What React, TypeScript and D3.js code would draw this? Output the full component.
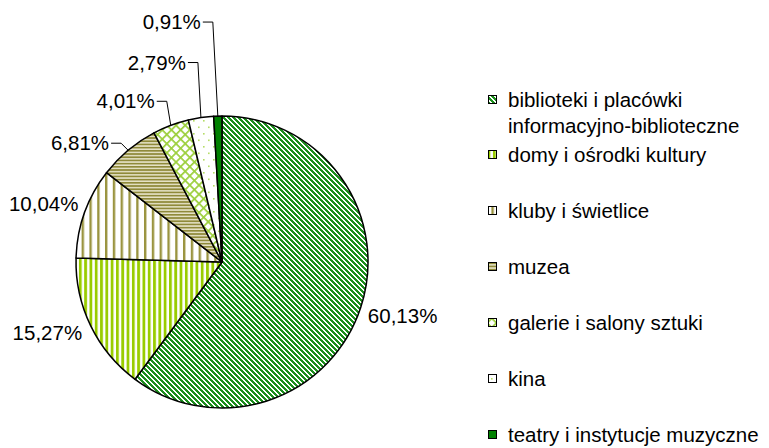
import { useEffect, useRef } from "react";
import * as d3 from "d3";

// udział poszczególnych instytucji (%)
const categories = [
  "biblioteki i placówki informacyjno-biblioteczne",
  "domy i ośrodki kultury",
  "kluby i świetlice",
  "muzea",
  "galerie i salony sztuki",
  "kina",
  "teatry i instytucje muzyczne",
];
const shares = [60.13, 15.27, 10.04, 6.81, 4.01, 2.79, 0.91];
const shareLabels = ["60,13%", "15,27%", "10,04%", "6,81%", "4,01%", "2,79%", "0,91%"];
const legendLines = [
  ["biblioteki i placówki", "informacyjno-biblioteczne"],
  ["domy i ośrodki kultury"],
  ["kluby i świetlice"],
  ["muzea"],
  ["galerie i salony sztuki"],
  ["kina"],
  ["teatry i instytucje muzyczne"],
];

const FONT = "'Liberation Sans', Arial, sans-serif";

export default function App() {
  const svgRef = useRef<SVGSVGElement>(null);

  useEffect(() => {
    if (!svgRef.current) return;
    const width = 769;
    const height = 448;
    const cx = 222;
    const cy = 262;
    const R = 146;

    const svg = d3.select(svgRef.current);
    svg.selectAll("*").remove();
    svg.attr("width", width).attr("height", height);

    const defs = svg.append("defs");

    // biblioteki - ukośne paski (bitmapa 5x5, kierunek "\")
    const p0 = defs.append("pattern").attr("id", "pat0").attr("patternUnits", "userSpaceOnUse")
      .attr("width", 5).attr("height", 5);
    p0.append("rect").attr("width", 5).attr("height", 5).attr("fill", "#fff");
    d3.range(5).forEach((r) => {
      [0, 1, 2].forEach((w) => {
        p0.append("rect")
          .attr("x", (r + w) % 5)
          .attr("y", r)
          .attr("width", 1)
          .attr("height", 1)
          .attr("fill", "#1c8f1c")
          .attr("shape-rendering", "crispEdges");
      });
    });

    // domy - pionowe paski limonkowe
    const p1 = defs.append("pattern").attr("id", "pat1").attr("patternUnits", "userSpaceOnUse")
      .attr("width", 5.3).attr("height", 10);
    p1.append("rect").attr("width", 5.3).attr("height", 10).attr("fill", "#fff");
    p1.append("rect").attr("width", 2.8).attr("height", 10).attr("fill", "#99cc00");

    // kluby - rzadkie pionowe paski oliwkowe
    const p2 = defs.append("pattern").attr("id", "pat2").attr("patternUnits", "userSpaceOnUse")
      .attr("width", 7.8).attr("height", 10);
    p2.append("rect").attr("width", 7.8).attr("height", 10).attr("fill", "#fff");
    p2.append("rect").attr("width", 2.4).attr("height", 10).attr("fill", "#9a9440");

    // muzea - poziome paski oliwkowe
    const p3 = defs.append("pattern").attr("id", "pat3").attr("patternUnits", "userSpaceOnUse")
      .attr("width", 10).attr("height", 3.2);
    p3.append("rect").attr("width", 10).attr("height", 3.2).attr("fill", "#e6e3c8");
    p3.append("rect").attr("width", 10).attr("height", 1.7).attr("fill", "#8f8a3a");

    // galerie - kratka ukośna
    const p4 = defs.append("pattern").attr("id", "pat4").attr("patternUnits", "userSpaceOnUse")
      .attr("width", 6.5).attr("height", 6.5).attr("patternTransform", "rotate(45)");
    p4.append("rect").attr("width", 6.5).attr("height", 6.5).attr("fill", "#fff");
    p4.append("rect").attr("width", 1.7).attr("height", 6.5).attr("fill", "#9ccf3c");
    p4.append("rect").attr("width", 6.5).attr("height", 1.7).attr("fill", "#9ccf3c");

    // kina - kropki
    const p5 = defs.append("pattern").attr("id", "pat5").attr("patternUnits", "userSpaceOnUse")
      .attr("width", 10).attr("height", 13);
    p5.append("rect").attr("width", 10).attr("height", 13).attr("fill", "#fff");
    p5.append("rect").attr("x", 1).attr("y", 1).attr("width", 1.6).attr("height", 1.6).attr("fill", "#b5dd66");
    p5.append("rect").attr("x", 6).attr("y", 7.5).attr("width", 1.6).attr("height", 1.6).attr("fill", "#b5dd66");

    const fills = ["url(#pat0)", "url(#pat1)", "url(#pat2)", "url(#pat3)", "url(#pat4)", "url(#pat5)", "#008000"];

    const pie = d3.pie<number>().sort(null).value((d) => d).startAngle(0).endAngle(2 * Math.PI);
    const arcs = pie(shares);
    const arc = d3.arc<d3.PieArcDatum<number>>().innerRadius(0).outerRadius(R);

    const g = svg.append("g").attr("transform", `translate(${cx},${cy})`);
    g.selectAll("path.slice")
      .data(arcs)
      .enter()
      .append("path")
      .attr("class", "slice")
      .attr("d", arc as any)
      .attr("fill", (_, i) => fills[i])
      .attr("stroke", "#000")
      .attr("stroke-width", 1.5)
      .attr("stroke-linejoin", "round");

    const mid = (d: d3.PieArcDatum<number>) => (d.startAngle + d.endAngle) / 2;
    const polar = (a: number, r: number) => [r * Math.sin(a), -r * Math.cos(a)];

    // etykiety dużych wycinków - na zewnątrz koła
    const outerR = [R + 40, R + 46, R + 38];
    const nudge = [
      [4, -5],
      [-2, -13],
      [-5, 4],
    ];
    const labels = svg.append("g").attr("font-family", FONT).attr("font-size", 20.5).attr("fill", "#000");
    arcs.slice(0, 3).forEach((d, i) => {
      const [x, y] = polar(mid(d), outerR[i]);
      labels.append("text")
        .attr("x", cx + x + nudge[i][0])
        .attr("y", cy + y + nudge[i][1])
        .attr("dy", "0.35em")
        .attr("text-anchor", "middle")
        .text(shareLabels[i]);
    });

    // etykiety małych wycinków z liniami odniesienia
    const elbowOffsets = [
      [-7, -7],
      [-4, -24],
      [-3, -55],
      [-5, -94],
    ];
    arcs.slice(3).forEach((d, k) => {
      const i = k + 3;
      const [ex, ey] = polar(mid(d), R);
      const [dx, dy] = elbowOffsets[k];
      const x0 = cx + ex;
      const y0 = cy + ey;
      const x1 = x0 + dx;
      const y1 = y0 + dy;
      const x2 = x1 - 10;
      svg.append("polyline")
        .attr("points", `${x0},${y0} ${x1},${y1} ${x2},${y1}`)
        .attr("fill", "none")
        .attr("stroke", "#000")
        .attr("stroke-width", 1);
      labels.append("text")
        .attr("x", x2 - 2)
        .attr("y", y1)
        .attr("dy", "0.35em")
        .attr("text-anchor", "end")
        .text(shareLabels[i]);
    });

    // legenda
    const legend = svg.append("g").attr("font-family", FONT).attr("font-size", 20.5).attr("fill", "#000");
    const rowY = d3.scaleLinear().domain([1, 6]).range([162, 442]);
    categories.forEach((_, i) => {
      const baseline = i === 0 ? 107 : rowY(i);
      legend.append("rect")
        .attr("x", 488.5)
        .attr("y", baseline - 11.5)
        .attr("width", 8)
        .attr("height", 8)
        .attr("fill", fills[i])
        .attr("stroke", "#000")
        .attr("stroke-width", 1);
      legendLines[i].forEach((line, j) => {
        legend.append("text")
          .attr("x", 508)
          .attr("y", baseline + j * 26)
          .text(line);
      });
    });
  }, []);

  return (
    <svg
      ref={svgRef}
      width={769}
      height={448}
      style={{ position: "absolute", left: 0, top: 0, background: "#fff" }}
    />
  );
}
